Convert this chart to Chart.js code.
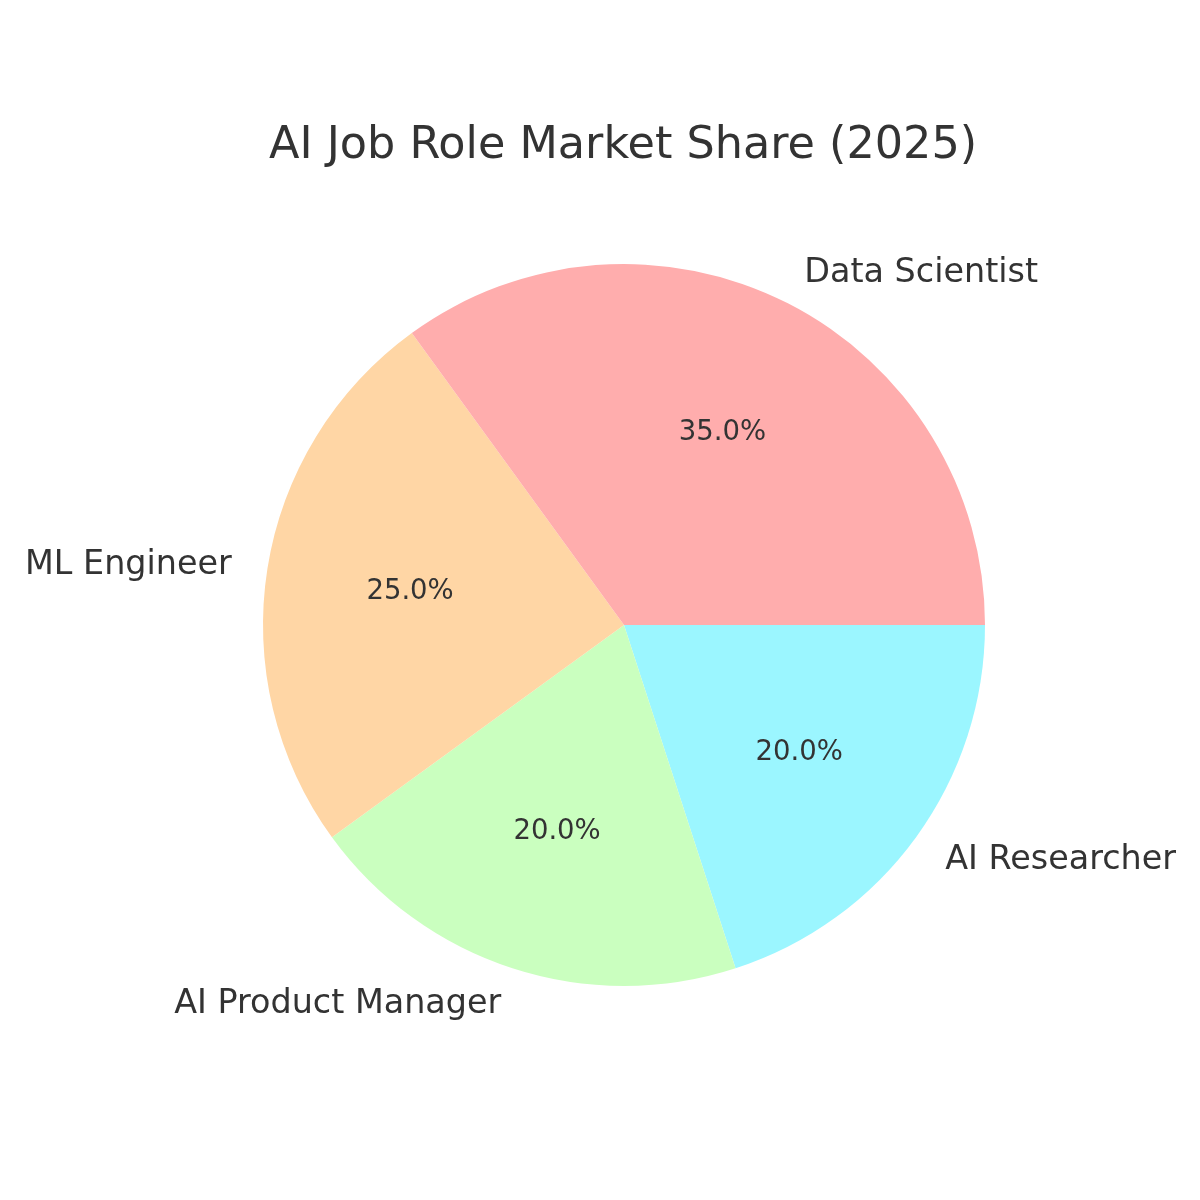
<!DOCTYPE html>
<html>
<head>
<meta charset="utf-8">
<script src="https://cdn.jsdelivr.net/npm/chart.js@4"></script>
<style>
html,body{margin:0;padding:0;background:#fff;}
canvas{display:block;}
</style>
</head>
<body>
<canvas id="c" width="1200" height="1200"></canvas>
<script>
const titleText = "AI Job Role Market Share (2025)";
const categories = ["Data Scientist", "ML Engineer", "AI Product Manager", "AI Researcher"];
const shares = [35, 25, 20, 20];
const colors = ["#FFADAD", "#FFD6A5", "#CAFFBF", "#9BF6FF"];

// matplotlib draws counter-clockwise from 3 o'clock; Chart.js draws clockwise,
// so feed the slices in reverse order starting at 3 o'clock.
const order = categories.map((_, i) => categories.length - 1 - i);
const dsLabels = order.map(i => categories[i]);
const dsValues = order.map(i => shares[i]);
const dsColors = order.map(i => colors[i]);

const FONT = "'DejaVu Sans', sans-serif";
const TEXT = "#333333";

const labelPlugin = {
  id: 'pieLabels',
  afterDraw(chart) {
    const ctx = chart.ctx;
    const meta = chart.getDatasetMeta(0);
    const total = dsValues.reduce((a, b) => a + b, 0);
    ctx.save();
    ctx.fillStyle = TEXT;
    meta.data.forEach((arc, i) => {
      const p = arc.getProps(['x', 'y', 'startAngle', 'endAngle', 'outerRadius'], true);
      const mid = (p.startAngle + p.endAngle) / 2;
      const cx = p.x, cy = p.y, r = p.outerRadius;
      // outer label
      const lx = cx + 1.1 * r * Math.cos(mid);
      const ly = cy + 1.1 * r * Math.sin(mid);
      ctx.font = "33.4px " + FONT;
      ctx.textBaseline = 'middle';
      ctx.textAlign = (lx > cx) ? 'left' : 'right';
      ctx.fillText(dsLabels[i], lx, ly + 2);
      // percent
      const px = cx + 0.6 * r * Math.cos(mid);
      const py = cy + 0.6 * r * Math.sin(mid);
      ctx.font = "27.5px " + FONT;
      ctx.textAlign = 'center';
      ctx.fillText((dsValues[i] / total * 100).toFixed(1) + "%", px, py + 1);
    });
    // title
    ctx.font = "44.5px " + FONT;
    ctx.textAlign = 'center';
    ctx.textBaseline = 'middle';
    ctx.fillText(titleText, 623, 146);
    ctx.restore();
  }
};

new Chart(document.getElementById('c'), {
  type: 'pie',
  data: {
    labels: dsLabels,
    datasets: [{
      data: dsValues,
      backgroundColor: dsColors,
      borderWidth: 0,
      hoverOffset: 0,
      offset: 0
    }]
  },
  options: {
    responsive: false,
    animation: false,
    rotation: 90,
    layout: { padding: { left: 263, right: 215, top: 264, bottom: 214 } },
    plugins: {
      legend: { display: false },
      tooltip: { enabled: false },
      title: { display: false }
    },
    events: []
  },
  plugins: [labelPlugin]
});
</script>
</body>
</html>
